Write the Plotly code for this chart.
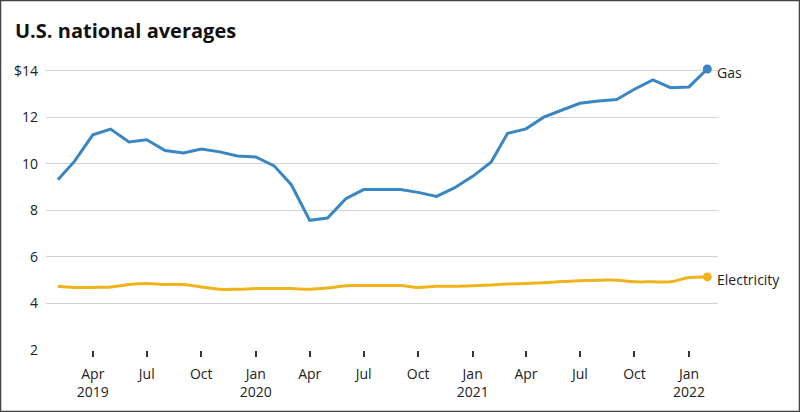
import plotly.graph_objects as go
import pandas as pd

# monthly national averages, Feb 2019 - Feb 2022
months = pd.date_range("2019-02-01", "2022-02-01", freq="MS")

gas = [9.31, 10.10, 11.24, 11.49, 10.94, 11.03, 10.57, 10.46, 10.63, 10.51, 10.33, 10.29,
       9.91, 9.10, 7.57, 7.67, 8.50, 8.89, 8.89, 8.89, 8.77, 8.60, 8.96, 9.46,
       10.07, 11.31, 11.50, 12.00, 12.31, 12.60, 12.70, 12.76, 13.20, 13.60, 13.27, 13.30,
       14.07]

electricity = [4.74, 4.69, 4.69, 4.71, 4.81, 4.86, 4.81, 4.81, 4.71, 4.61, 4.61, 4.64,
               4.64, 4.64, 4.61, 4.66, 4.76, 4.77, 4.77, 4.77, 4.69, 4.74, 4.74, 4.76,
               4.79, 4.83, 4.86, 4.89, 4.94, 4.97, 5.00, 5.00, 4.93, 4.93, 4.93, 5.11,
               5.14]

tick_dates = pd.date_range("2019-04-01", "2022-01-01", freq="QS")
tick_labels = ["Apr<br>2019", "Jul", "Oct", "Jan<br>2020", "Apr", "Jul", "Oct",
               "Jan<br>2021", "Apr", "Jul", "Oct", "Jan<br>2022"]

y_ticks = [2, 4, 6, 8, 10, 12, 14]
y_labels = ["2", "4", "6", "8", "10", "12", "$14"]

GAS_COLOR = "#3a86c3"
ELEC_COLOR = "#efb41c"
FONT = "Open Sans"

fig = go.Figure()

series = [("Gas", gas, GAS_COLOR, "linear"), ("Electricity", electricity, ELEC_COLOR, "spline")]
for name, vals, color, shape in series:
    fig.add_trace(go.Scatter(x=months, y=vals, mode="lines", name=name,
                             line=dict(color=color, width=3, shape=shape)))
    # end dot + direct label
    fig.add_trace(go.Scatter(x=[months[-1]], y=[vals[-1]], mode="markers",
                             marker=dict(color=color, size=9), cliponaxis=False,
                             hoverinfo="skip"))
    fig.add_annotation(x=months[-1], y=vals[-1], text=name, showarrow=False,
                       xanchor="left", xshift=8, yshift=-3,
                       font=dict(family=FONT, size=14, color="#222"))

# plot area in pixels: left 46, right 718, top 59, bottom 350
pw, ph = 672, 291
fig.add_shape(type="rect", xref="paper", yref="paper",
              x0=-45.5 / pw, x1=753.5 / pw, y0=-61.5 / ph, y1=349.5 / ph,
              line=dict(color="#444", width=1.5))

fig.update_layout(
    width=800, height=412,
    margin=dict(l=46, r=82, t=59, b=62),
    paper_bgcolor="white", plot_bgcolor="white",
    showlegend=False,
    font=dict(family=FONT, size=14, color="#222"),
    title=dict(text="<b>U.S. national averages</b>", x=15 / 800, xanchor="left",
               y=1 - 31 / 412, yanchor="middle",
               font=dict(family=FONT, size=20, color="#111")),
    xaxis=dict(range=["2019-01-12", "2022-02-19"], tickvals=tick_dates, ticktext=tick_labels,
               showgrid=False, zeroline=False, showline=False,
               ticks="outside", ticklen=6, tickwidth=2, tickcolor="#333",
               ticklabelstandoff=5, tickfont=dict(size=14, color="#222")),
    yaxis=dict(range=[2, 14.5], tickvals=y_ticks, ticktext=y_labels,
               showgrid=True, gridcolor="#d3d3d3", gridwidth=1, zeroline=False,
               showline=False, ticks="", ticklabelstandoff=7,
               tickfont=dict(size=14, color="#222")),
)

fig.write_html("out.html", config={"displayModeBar": False},
               post_script="document.body.style.margin='0';")
